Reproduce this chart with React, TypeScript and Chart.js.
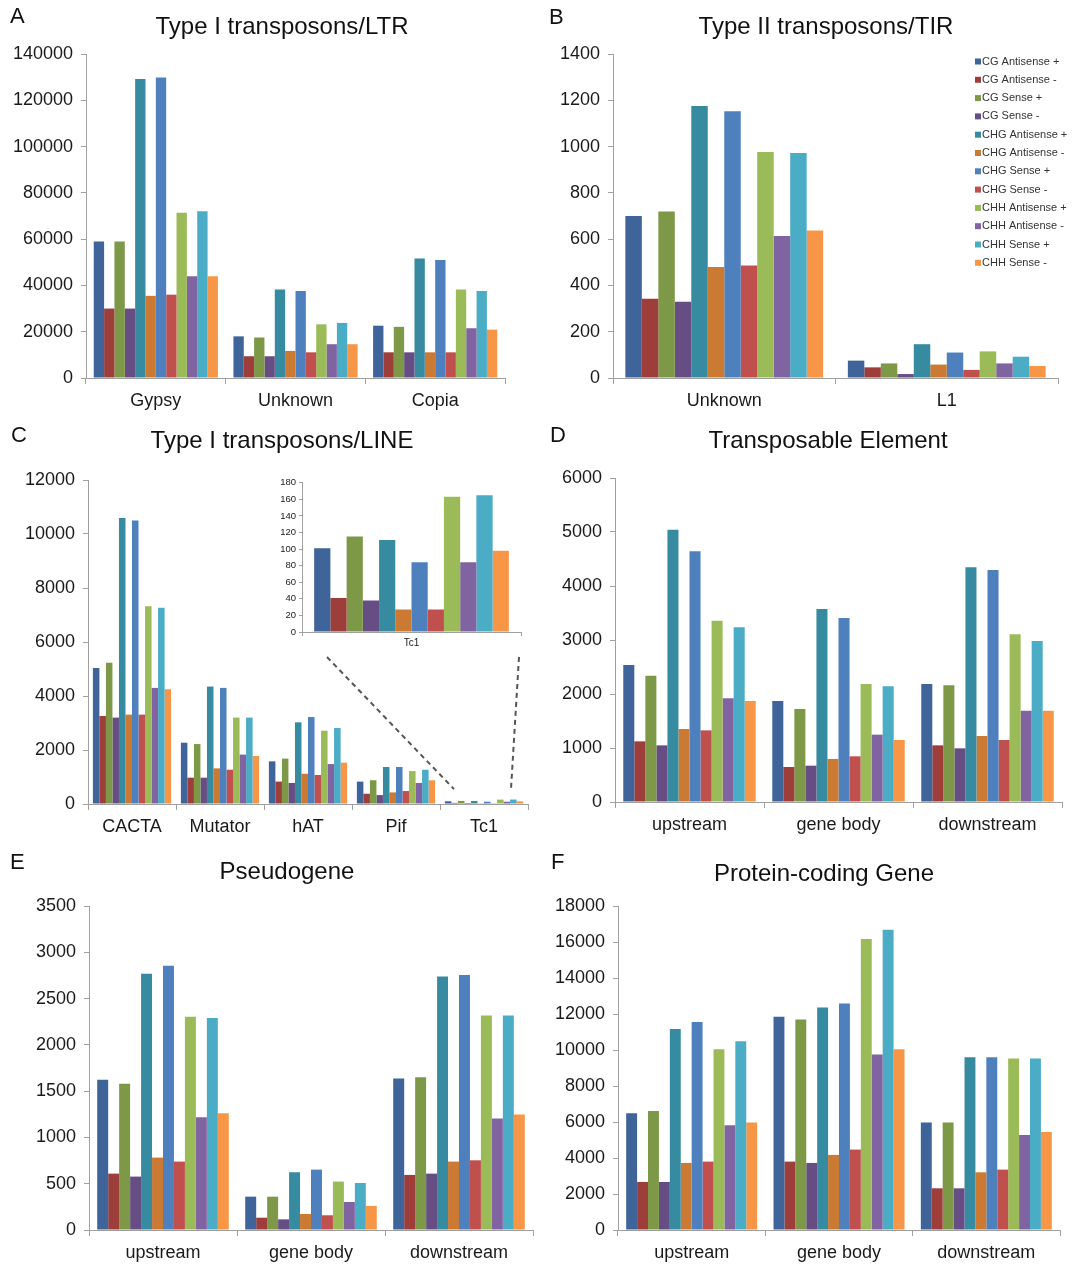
import React, { useEffect, useRef } from 'react';
import { Chart, registerables } from 'chart.js';

Chart.register(...registerables);

const FONT = '"Liberation Sans", Arial, Helvetica, sans-serif';
const AXIS = '#a0a0a0';
const TEXT = '#1a1a1a';

const SERIES = [
  'CG Antisense +', 'CG Antisense -', 'CG Sense +', 'CG Sense -',
  'CHG Antisense +', 'CHG Antisense -', 'CHG Sense +', 'CHG Sense -',
  'CHH Antisense +', 'CHH Antisense -', 'CHH Sense +', 'CHH Sense -',
];
const COLORS = [
  '#3F6499', '#9D3E3B', '#7D9948', '#664E85',
  '#378BA0', '#CB7A34', '#4E80BD', '#C0504E',
  '#9BBB59', '#8064A2', '#4BACC6', '#F79646',
];

// A: Type I transposons/LTR
const LTR_CATS = ['Gypsy', 'Unknown', 'Copia'];
const LTR_GYPSY = [59000, 30000, 59000, 30000, 129200, 35500, 129800, 36000, 71400, 44000, 72000, 44000];
const LTR_UNKNOWN = [18000, 9400, 17500, 9400, 38200, 11700, 37600, 11100, 23200, 14600, 23800, 14600];
const LTR_COPIA = [22600, 11100, 22100, 11100, 51600, 11100, 51000, 11100, 38200, 21500, 37600, 20900];

// B: Type II transposons/TIR
const TIR_CATS = ['Unknown', 'L1'];
const TIR_UNKNOWN = [700, 342, 719, 330, 1175, 480, 1153, 486, 977, 614, 972, 637];
const TIR_L1 = [75, 46, 63, 17, 146, 58, 110, 35, 115, 63, 92, 52];

// C: Type I transposons/LINE
const LINE_CATS = ['CACTA', 'Mutator', 'hAT', 'Pif', 'Tc1'];
const LINE_CACTA = [5040, 3260, 5235, 3200, 10590, 3310, 10500, 3310, 7320, 4300, 7270, 4250];
const LINE_MUTATOR = [2270, 975, 2220, 975, 4350, 1320, 4300, 1270, 3200, 1830, 3200, 1780];
const LINE_HAT = [1580, 830, 1680, 780, 3025, 1120, 3220, 1075, 2715, 1480, 2815, 1530];
const LINE_PIF = [830, 380, 880, 330, 1370, 430, 1370, 480, 1220, 780, 1270, 880];
const LINE_TC1 = [101, 41, 115, 38, 111, 27, 84, 27, 163, 84, 165, 98];

// D: Transposable Element
const REGION_CATS = ['upstream', 'gene body', 'downstream'];
const TE_UP = [2537, 1123, 2340, 1049, 5043, 1352, 4642, 1327, 3358, 1920, 3235, 1870];
const TE_BODY = [1870, 648, 1722, 673, 3574, 796, 3407, 846, 2185, 1247, 2142, 1148];
const TE_DOWN = [2185, 1049, 2160, 994, 4346, 1222, 4296, 1148, 3105, 1691, 2981, 1691];

// E: Pseudogene
const PSEUDO_UP = [1622, 609, 1579, 577, 2768, 782, 2855, 739, 2303, 1218, 2289, 1262];
const PSEUDO_BODY = [360, 133, 360, 115, 624, 173, 652, 159, 523, 303, 508, 260];
const PSEUDO_DOWN = [1636, 595, 1651, 609, 2739, 739, 2754, 753, 2318, 1204, 2318, 1247];

// F: Protein-coding Gene
const PC_UP = [6488, 2669, 6618, 2669, 11160, 3726, 11549, 3800, 10048, 5821, 10493, 5969];
const PC_BODY = [11846, 3800, 11698, 3726, 12365, 4171, 12587, 4468, 16165, 9751, 16684, 10048];
const PC_DOWN = [5969, 2317, 5969, 2317, 9603, 3207, 9603, 3355, 9529, 5283, 9529, 5450];

// Legend plugin (panel B), drawn inside the plot area
const legendPlugin = {
  id: 'insideLegend',
  afterDraw(chart: any) {
    const ctx = chart.ctx;
    const x = 439;
    const y0 = 61.5;
    const pitch = 18.3;
    ctx.save();
    ctx.font = `11px ${FONT}`;
    ctx.textBaseline = 'middle';
    ctx.textAlign = 'left';
    chart.data.datasets.forEach((ds: any, i: number) => {
      const y = y0 + i * pitch;
      ctx.fillStyle = ds.backgroundColor;
      ctx.fillRect(x, y - 3, 6, 6);
      ctx.fillStyle = '#333';
      ctx.fillText(ds.label, x + 7, y);
    });
    ctx.restore();
  },
};

// Dashed zoom lines (panel C), from inset toward the Tc1 bars
const zoomLinesPlugin = {
  id: 'zoomLines',
  afterDraw(chart: any) {
    const ctx = chart.ctx;
    const xs = chart.scales.x;
    const ys = chart.scales.y;
    const cx = xs.getPixelForValue(4);
    const yEnd = ys.getPixelForValue(550);
    ctx.save();
    ctx.strokeStyle = '#555';
    ctx.lineWidth = 2;
    ctx.setLineDash([5, 4]);
    ctx.beginPath();
    ctx.moveTo(327, 237);
    ctx.lineTo(cx - 30, yEnd);
    ctx.moveTo(519, 237);
    ctx.lineTo(cx + 27, yEnd);
    ctx.stroke();
    ctx.restore();
  },
};

type Box = { x: number; y: number; w: number; h: number };
type Area = { l: number; r: number; t: number; b: number };

function BarPanel(props: {
  box: Box; area: Area; cats: string[]; rows: number[][]; max: number; step: number;
  tickSize?: number; labelSize?: number; tickLen?: number; xTickLen?: number;
  tickPad?: number; labelPad?: number; plugins?: any[]; z?: number;
}) {
  const ref = useRef<HTMLCanvasElement>(null);
  const {
    box, area, cats, rows, max, step,
    tickSize = 18, labelSize = 18, tickLen = 5, xTickLen = 6,
    tickPad = 8, labelPad = 6, plugins = [], z = 1,
  } = props;
  useEffect(() => {
    const l = area.l - box.x;
    const r = area.r - box.x;
    const t = area.t - box.y;
    const b = area.b - box.y;
    const chart = new Chart(ref.current!, {
      type: 'bar',
      data: {
        labels: cats,
        datasets: SERIES.map((s, i) => ({
          label: s,
          data: rows.map((row) => row[i]),
          backgroundColor: COLORS[i],
          borderWidth: 0,
          barPercentage: 1,
          categoryPercentage: 0.889,
        })),
      },
      options: {
        responsive: false,
        animation: false,
        devicePixelRatio: 1,
        layout: { padding: { left: 0, top: t, right: box.w - r, bottom: 0 } },
        plugins: {
          legend: { display: false },
          tooltip: { enabled: false },
          title: { display: false },
        },
        scales: {
          x: {
            offset: true,
            grid: { offset: true, drawOnChartArea: false, drawTicks: true, tickLength: xTickLen, color: AXIS, lineWidth: 1 },
            border: { color: AXIS, width: 1 },
            ticks: { font: { family: FONT, size: labelSize }, color: TEXT, padding: labelPad, maxRotation: 0, autoSkip: false },
            afterFit: (s: any) => { s.height = box.h - b; },
          },
          y: {
            min: 0,
            max,
            grid: { drawOnChartArea: false, drawTicks: true, tickLength: tickLen, color: AXIS, lineWidth: 1 },
            border: { color: AXIS, width: 1 },
            ticks: {
              stepSize: step,
              font: { family: FONT, size: tickSize },
              color: TEXT,
              padding: tickPad,
              callback: (v: any) => String(v),
            },
            afterFit: (s: any) => { s.width = l; },
          },
        },
      } as any,
      plugins,
    });
    return () => chart.destroy();
  }, []);
  return (
    <canvas
      ref={ref}
      width={box.w}
      height={box.h}
      style={{ position: 'absolute', left: box.x, top: box.y, width: box.w, height: box.h, zIndex: z }}
    />
  );
}

function Label(props: { text: string; x: number; y: number; size: number; center?: boolean }) {
  const { text, x, y, size, center = true } = props;
  return (
    <div
      style={{
        position: 'absolute',
        left: x,
        top: y,
        transform: center ? 'translate(-50%, -50%)' : 'translate(0, -50%)',
        fontFamily: FONT,
        fontSize: size,
        lineHeight: 1,
        color: '#111',
        whiteSpace: 'nowrap',
        zIndex: 3,
      }}
    >
      {text}
    </div>
  );
}

export default function App() {
  return (
    <div style={{ position: 'absolute', left: 0, top: 0, width: 1073, height: 1267, background: '#fff', overflow: 'hidden' }}>
      <BarPanel box={{ x: 0, y: 0, w: 536, h: 420 }} area={{ l: 86, r: 505, t: 54, b: 378 }}
        cats={LTR_CATS} rows={[LTR_GYPSY, LTR_UNKNOWN, LTR_COPIA]} max={140000} step={20000} />
      <BarPanel box={{ x: 536, y: 0, w: 537, h: 420 }} area={{ l: 613, r: 1058, t: 54, b: 378 }}
        cats={TIR_CATS} rows={[TIR_UNKNOWN, TIR_L1]} max={1400} step={200} plugins={[legendPlugin]} />
      <BarPanel box={{ x: 0, y: 420, w: 536, h: 420 }} area={{ l: 88, r: 528, t: 480, b: 804 }}
        cats={LINE_CATS} rows={[LINE_CACTA, LINE_MUTATOR, LINE_HAT, LINE_PIF, LINE_TC1]} max={12000} step={2000}
        plugins={[zoomLinesPlugin]} />
      <BarPanel box={{ x: 268, y: 474, w: 262, h: 176 }} area={{ l: 302, r: 521, t: 482, b: 632 }}
        cats={['Tc1']} rows={[LINE_TC1]} max={180} step={20}
        tickSize={9.5} labelSize={10} tickLen={3} xTickLen={4} tickPad={3} labelPad={1} z={2} />
      <BarPanel box={{ x: 536, y: 420, w: 537, h: 420 }} area={{ l: 615, r: 1062, t: 478, b: 802 }}
        cats={REGION_CATS} rows={[TE_UP, TE_BODY, TE_DOWN]} max={6000} step={1000} />
      <BarPanel box={{ x: 0, y: 840, w: 536, h: 427 }} area={{ l: 89, r: 533, t: 906, b: 1230 }}
        cats={REGION_CATS} rows={[PSEUDO_UP, PSEUDO_BODY, PSEUDO_DOWN]} max={3500} step={500} />
      <BarPanel box={{ x: 536, y: 840, w: 537, h: 427 }} area={{ l: 618, r: 1060, t: 906, b: 1230 }}
        cats={REGION_CATS} rows={[PC_UP, PC_BODY, PC_DOWN]} max={18000} step={2000} />

      <Label text="Type I transposons/LTR" x={282} y={26} size={24} />
      <Label text="Type II transposons/TIR" x={826} y={26} size={24} />
      <Label text="Type I transposons/LINE" x={282} y={440} size={24} />
      <Label text="Transposable Element" x={828} y={440} size={24} />
      <Label text="Pseudogene" x={287} y={871} size={24} />
      <Label text="Protein-coding Gene" x={824} y={873} size={24} />

      <Label text="A" x={10} y={16} size={22} center={false} />
      <Label text="B" x={549} y={17} size={22} center={false} />
      <Label text="C" x={11} y={435} size={22} center={false} />
      <Label text="D" x={550} y={435} size={22} center={false} />
      <Label text="E" x={10} y={862} size={22} center={false} />
      <Label text="F" x={551} y={862} size={22} center={false} />
    </div>
  );
}
